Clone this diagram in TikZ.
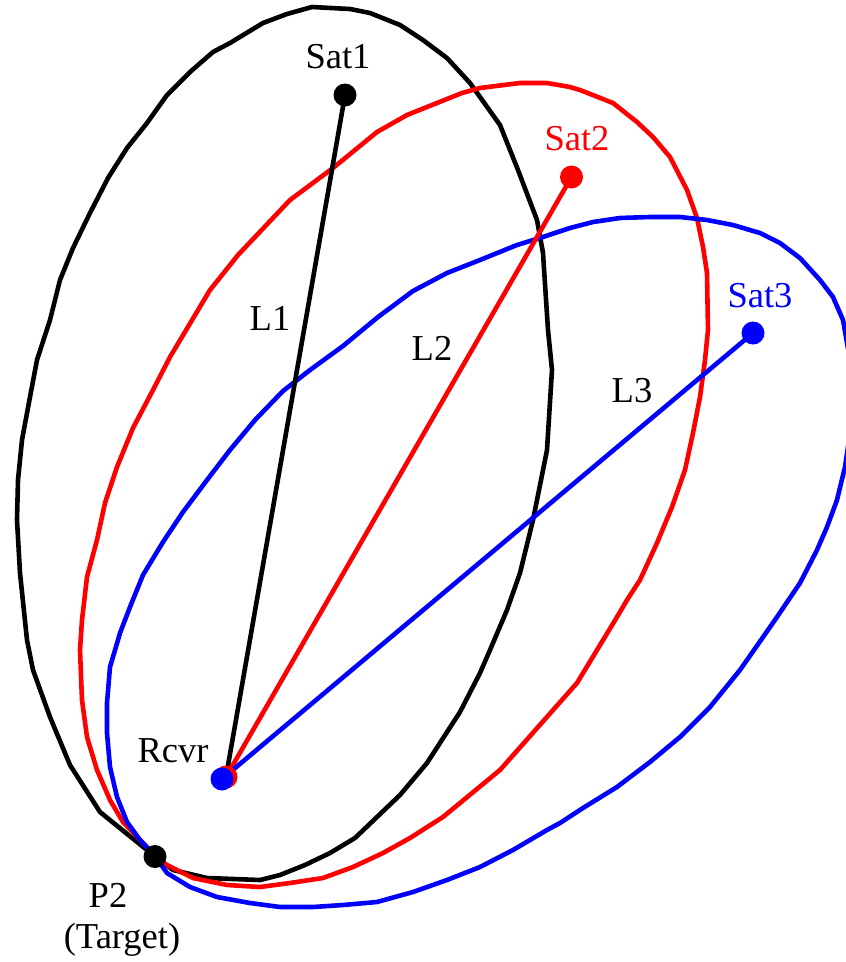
\documentclass[tikz,border=0pt]{standalone}
\usepackage{fontspec}
\setmainfont{Liberation Serif}
\begin{document}
\begin{tikzpicture}[x=1pt,y=-1pt,
  curve/.style={line width=4.6pt,line join=round},
  ray/.style={line width=4.6pt},
  dot/.style={circle,inner sep=0pt,minimum size=23pt},
  lab/.style={font=\fontsize{36.5}{40}\selectfont,inner sep=0pt,anchor=base}]
\useasboundingbox (0,0) rectangle (846,962);
\clip (0,0) rectangle (846,962);
% ellipses
\draw[curve,black] (312,7) -- (350,9) -- (370,13) -- (400,25) -- (423,40) -- (447,58) -- (470,83) -- (500,125) -- (518,170) -- (537,220) -- (543,253) -- (548,330) -- (552,370) -- (547,450) -- (533,520) -- (520,573) -- (507,610) -- (490,650) -- (480,673) -- (460,712) -- (427,763) -- (400,795) -- (355,838) -- (330,853) -- (305,865) -- (280,875) -- (260,880) -- (207,878) -- (173,870) -- (155,856) -- (147,850) -- (100,812) -- (70,765) -- (50,717) -- (33,670) -- (27,640) -- (20,573) -- (17,520) -- (18,480) -- (22,440) -- (30,397) -- (37,360) -- (50,320) -- (60,280) -- (73,248) -- (90,213) -- (108,178) -- (127,148) -- (147,123) -- (167,95) -- (190,72) -- (213,52) -- (230,43) -- (263,23) -- (287,14) -- cycle;
\draw[curve,red] (170,357) -- (210,290) -- (238,255) -- (290,200) -- (333,168) -- (377,132) -- (407,115) -- (462,93) -- (480,88) -- (520,83) -- (547,83) -- (570,87) -- (580,90) -- (613,103) -- (637,122) -- (653,137) -- (670,157) -- (687,190) -- (697,218) -- (703,247) -- (707,273) -- (708,330) -- (705,360) -- (700,397) -- (693,433) -- (685,470) -- (672,507) -- (657,543) -- (640,580) -- (627,600) -- (617,617) -- (577,683) -- (500,770) -- (443,817) -- (410,838) -- (383,853) -- (353,867) -- (323,878) -- (290,883) -- (260,887) -- (227,885) -- (193,878) -- (163,863) -- (155,856) -- (143,843) -- (123,822) -- (110,800) -- (97,770) -- (87,737) -- (82,700) -- (80,650) -- (82,620) -- (87,577) -- (97,540) -- (105,503) -- (117,467) -- (133,428) -- (153,390) -- cycle;
\draw[curve,blue] (107,703) -- (110,667) -- (118,640) -- (120,633) -- (130,607) -- (143,575) -- (163,542) -- (183,512) -- (207,480) -- (230,450) -- (255,420) -- (283,391) -- (310,370) -- (343,346) -- (378,317) -- (413,291) -- (447,273) -- (480,260) -- (517,245) -- (543,237) -- (570,228) -- (593,222) -- (620,218) -- (650,217) -- (680,217) -- (707,220) -- (733,225) -- (760,233) -- (780,243) -- (800,258) -- (820,280) -- (833,297) -- (843,320) -- (850,360) -- (852,400) -- (849,440) -- (845,467) -- (837,500) -- (827,527) -- (817,550) -- (800,583) -- (777,617) -- (761,640) -- (740,670) -- (710,707) -- (680,737) -- (650,762) -- (617,787) -- (583,808) -- (560,823) -- (547,830) -- (513,850) -- (480,867) -- (447,880) -- (413,892) -- (377,902) -- (343,905) -- (313,907) -- (280,907) -- (250,903) -- (217,897) -- (190,887) -- (167,873) -- (155,856) -- (140,840) -- (127,822) -- (117,797) -- (110,767) -- (107,733) -- cycle;
% points
\coordinate (sat1) at (345,95);
\coordinate (sat2) at (571.5,177);
\coordinate (sat3) at (753,333);
\coordinate (rcvrred) at (226,777);
\coordinate (rcvr) at (222,779);
\coordinate (p2) at (155,856.5);
% ranges
\draw[ray,black] (sat1) -- (rcvrred);
\draw[ray,red] (sat2) -- (rcvrred);
\draw[ray,blue] (sat3) -- (rcvr);
% dots
\node[dot,fill=black] (sat1dot) at (sat1) {};
\node[dot,fill=red] (sat2dot) at (sat2) {};
\node[dot,fill=blue] (sat3dot) at (sat3) {};
\node[dot,fill=red] (rcvrreddot) at (rcvrred) {};
\node[dot,fill=blue] (rcvrdot) at (rcvr) {};
\node[dot,fill=black] (p2dot) at (p2) {};
% labels
\node[lab,black] (sat1lab) at (338,68) {Sat1};
\node[lab,red] (sat2lab) at (577,150) {Sat2};
\node[lab,blue] (sat3lab) at (760,307) {Sat3};
\node[lab] (l1lab) at (270,330) {L1};
\node[lab] (l2lab) at (432,360) {L2};
\node[lab] (l3lab) at (632,402) {L3};
\node[lab] (rcvrlab) at (173,762) {Rcvr};
\node[lab] (p2lab) at (108,907) {P2};
\node[lab] (tgtlab) at (122,948) {(Target)};
\end{tikzpicture}
\end{document}
